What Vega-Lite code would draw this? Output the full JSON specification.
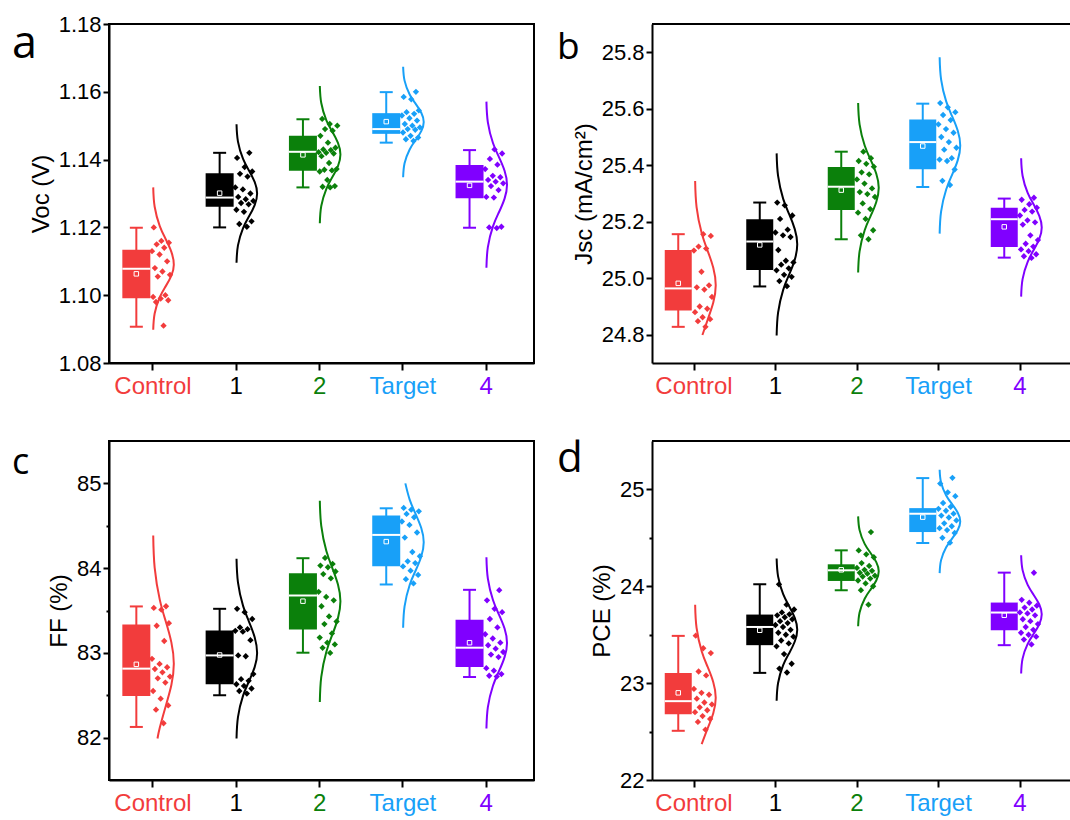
{
  "$schema": "https://vega.github.io/schema/vega-lite/v6.json",
  "background": "white",
  "padding": {"left": 11, "top": 12, "right": 0, "bottom": 0},
  "datasets": {
    "box": [
      {"panel": "a", "group": "Control", "min": 1.0907, "q1": 1.0991, "median": 1.1078, "q3": 1.1134, "max": 1.1199, "mean": 1.1063},
      {"panel": "a", "group": "1", "min": 1.12, "q1": 1.1261, "median": 1.1288, "q3": 1.136, "max": 1.142, "mean": 1.1301},
      {"panel": "a", "group": "2", "min": 1.1318, "q1": 1.1367, "median": 1.1423, "q3": 1.147, "max": 1.1519, "mean": 1.1414},
      {"panel": "a", "group": "Target", "min": 1.145, "q1": 1.1476, "median": 1.149, "q3": 1.1537, "max": 1.1599, "mean": 1.1512},
      {"panel": "a", "group": "4", "min": 1.1199, "q1": 1.1286, "median": 1.1335, "q3": 1.1384, "max": 1.1428, "mean": 1.1324},
      {"panel": "b", "group": "Control", "min": 24.828, "q1": 24.886, "median": 24.964, "q3": 25.1, "max": 25.156, "mean": 24.982},
      {"panel": "b", "group": "1", "min": 24.971, "q1": 25.029, "median": 25.13, "q3": 25.209, "max": 25.268, "mean": 25.118},
      {"panel": "b", "group": "2", "min": 25.138, "q1": 25.242, "median": 25.324, "q3": 25.394, "max": 25.448, "mean": 25.312},
      {"panel": "b", "group": "Target", "min": 25.323, "q1": 25.386, "median": 25.482, "q3": 25.562, "max": 25.618, "mean": 25.468},
      {"panel": "b", "group": "4", "min": 25.073, "q1": 25.111, "median": 25.209, "q3": 25.25, "max": 25.282, "mean": 25.182},
      {"panel": "c", "group": "Control", "min": 82.126, "q1": 82.491, "median": 82.814, "q3": 83.336, "max": 83.548, "mean": 82.865},
      {"panel": "c", "group": "1", "min": 82.5, "q1": 82.629, "median": 82.97, "q3": 83.265, "max": 83.52, "mean": 82.975},
      {"panel": "c", "group": "2", "min": 83.002, "q1": 83.277, "median": 83.677, "q3": 83.94, "max": 84.117, "mean": 83.61},
      {"panel": "c", "group": "Target", "min": 83.807, "q1": 84.022, "median": 84.392, "q3": 84.62, "max": 84.706, "mean": 84.313},
      {"panel": "c", "group": "4", "min": 82.715, "q1": 82.833, "median": 83.061, "q3": 83.391, "max": 83.744, "mean": 83.12},
      {"panel": "d", "group": "Control", "min": 22.508, "q1": 22.68, "median": 22.814, "q3": 23.106, "max": 23.488, "mean": 22.9},
      {"panel": "d", "group": "1", "min": 23.106, "q1": 23.392, "median": 23.58, "q3": 23.708, "max": 24.021, "mean": 23.546},
      {"panel": "d", "group": "2", "min": 23.959, "q1": 24.055, "median": 24.165, "q3": 24.227, "max": 24.371, "mean": 24.17},
      {"panel": "d", "group": "Target", "min": 24.447, "q1": 24.56, "median": 24.749, "q3": 24.807, "max": 25.117, "mean": 24.714},
      {"panel": "d", "group": "4", "min": 23.392, "q1": 23.546, "median": 23.729, "q3": 23.832, "max": 24.141, "mean": 23.701}
    ],
    "crv": [
      {"panel": "a", "group": "Control", "value": 1.0898, "density": 0.011},
      {"panel": "a", "group": "Control", "value": 1.0946, "density": 0.08},
      {"panel": "a", "group": "Control", "value": 1.0994, "density": 0.325},
      {"panel": "a", "group": "Control", "value": 1.1026, "density": 0.607},
      {"panel": "a", "group": "Control", "value": 1.1058, "density": 0.882},
      {"panel": "a", "group": "Control", "value": 1.109, "density": 1},
      {"panel": "a", "group": "Control", "value": 1.1128, "density": 0.882},
      {"panel": "a", "group": "Control", "value": 1.1166, "density": 0.607},
      {"panel": "a", "group": "Control", "value": 1.1204, "density": 0.325},
      {"panel": "a", "group": "Control", "value": 1.1261, "density": 0.08},
      {"panel": "a", "group": "Control", "value": 1.1318, "density": 0.011},
      {"panel": "a", "group": "1", "value": 1.1096, "density": 0.011},
      {"panel": "a", "group": "1", "value": 1.1147, "density": 0.08},
      {"panel": "a", "group": "1", "value": 1.1198, "density": 0.325},
      {"panel": "a", "group": "1", "value": 1.1232, "density": 0.607},
      {"panel": "a", "group": "1", "value": 1.1266, "density": 0.882},
      {"panel": "a", "group": "1", "value": 1.13, "density": 1},
      {"panel": "a", "group": "1", "value": 1.1334, "density": 0.882},
      {"panel": "a", "group": "1", "value": 1.1368, "density": 0.607},
      {"panel": "a", "group": "1", "value": 1.1402, "density": 0.325},
      {"panel": "a", "group": "1", "value": 1.1453, "density": 0.08},
      {"panel": "a", "group": "1", "value": 1.1504, "density": 0.011},
      {"panel": "a", "group": "2", "value": 1.1212, "density": 0.011},
      {"panel": "a", "group": "2", "value": 1.1263, "density": 0.08},
      {"panel": "a", "group": "2", "value": 1.1314, "density": 0.325},
      {"panel": "a", "group": "2", "value": 1.1348, "density": 0.607},
      {"panel": "a", "group": "2", "value": 1.1381, "density": 0.882},
      {"panel": "a", "group": "2", "value": 1.1415, "density": 1},
      {"panel": "a", "group": "2", "value": 1.1449, "density": 0.882},
      {"panel": "a", "group": "2", "value": 1.1483, "density": 0.607},
      {"panel": "a", "group": "2", "value": 1.1516, "density": 0.325},
      {"panel": "a", "group": "2", "value": 1.1567, "density": 0.08},
      {"panel": "a", "group": "2", "value": 1.1617, "density": 0.011},
      {"panel": "a", "group": "Target", "value": 1.1348, "density": 0.011},
      {"panel": "a", "group": "Target", "value": 1.1389, "density": 0.08},
      {"panel": "a", "group": "Target", "value": 1.143, "density": 0.325},
      {"panel": "a", "group": "Target", "value": 1.1457, "density": 0.607},
      {"panel": "a", "group": "Target", "value": 1.1484, "density": 0.882},
      {"panel": "a", "group": "Target", "value": 1.1511, "density": 1},
      {"panel": "a", "group": "Target", "value": 1.1538, "density": 0.882},
      {"panel": "a", "group": "Target", "value": 1.1565, "density": 0.607},
      {"panel": "a", "group": "Target", "value": 1.1592, "density": 0.325},
      {"panel": "a", "group": "Target", "value": 1.1633, "density": 0.08},
      {"panel": "a", "group": "Target", "value": 1.1674, "density": 0.011},
      {"panel": "a", "group": "4", "value": 1.1081, "density": 0.011},
      {"panel": "a", "group": "4", "value": 1.1142, "density": 0.08},
      {"panel": "a", "group": "4", "value": 1.1203, "density": 0.325},
      {"panel": "a", "group": "4", "value": 1.1244, "density": 0.607},
      {"panel": "a", "group": "4", "value": 1.1285, "density": 0.882},
      {"panel": "a", "group": "4", "value": 1.1326, "density": 1},
      {"panel": "a", "group": "4", "value": 1.1367, "density": 0.882},
      {"panel": "a", "group": "4", "value": 1.1408, "density": 0.607},
      {"panel": "a", "group": "4", "value": 1.1449, "density": 0.325},
      {"panel": "a", "group": "4", "value": 1.151, "density": 0.08},
      {"panel": "a", "group": "4", "value": 1.1571, "density": 0.011},
      {"panel": "b", "group": "Control", "value": 24.799, "density": 0.36},
      {"panel": "b", "group": "Control", "value": 24.852, "density": 0.607},
      {"panel": "b", "group": "Control", "value": 24.914, "density": 0.882},
      {"panel": "b", "group": "Control", "value": 24.975, "density": 1},
      {"panel": "b", "group": "Control", "value": 25.037, "density": 0.882},
      {"panel": "b", "group": "Control", "value": 25.098, "density": 0.607},
      {"panel": "b", "group": "Control", "value": 25.16, "density": 0.325},
      {"panel": "b", "group": "Control", "value": 25.252, "density": 0.08},
      {"panel": "b", "group": "Control", "value": 25.344, "density": 0.011},
      {"panel": "b", "group": "1", "value": 24.797, "density": 0.011},
      {"panel": "b", "group": "1", "value": 24.878, "density": 0.08},
      {"panel": "b", "group": "1", "value": 24.959, "density": 0.325},
      {"panel": "b", "group": "1", "value": 25.012, "density": 0.607},
      {"panel": "b", "group": "1", "value": 25.066, "density": 0.882},
      {"panel": "b", "group": "1", "value": 25.12, "density": 1},
      {"panel": "b", "group": "1", "value": 25.174, "density": 0.882},
      {"panel": "b", "group": "1", "value": 25.228, "density": 0.607},
      {"panel": "b", "group": "1", "value": 25.281, "density": 0.325},
      {"panel": "b", "group": "1", "value": 25.362, "density": 0.08},
      {"panel": "b", "group": "1", "value": 25.442, "density": 0.011},
      {"panel": "b", "group": "2", "value": 25.02, "density": 0.011},
      {"panel": "b", "group": "2", "value": 25.095, "density": 0.08},
      {"panel": "b", "group": "2", "value": 25.17, "density": 0.325},
      {"panel": "b", "group": "2", "value": 25.22, "density": 0.607},
      {"panel": "b", "group": "2", "value": 25.27, "density": 0.882},
      {"panel": "b", "group": "2", "value": 25.32, "density": 1},
      {"panel": "b", "group": "2", "value": 25.37, "density": 0.882},
      {"panel": "b", "group": "2", "value": 25.42, "density": 0.607},
      {"panel": "b", "group": "2", "value": 25.47, "density": 0.325},
      {"panel": "b", "group": "2", "value": 25.545, "density": 0.08},
      {"panel": "b", "group": "2", "value": 25.62, "density": 0.011},
      {"panel": "b", "group": "Target", "value": 25.158, "density": 0.011},
      {"panel": "b", "group": "Target", "value": 25.236, "density": 0.08},
      {"panel": "b", "group": "Target", "value": 25.314, "density": 0.325},
      {"panel": "b", "group": "Target", "value": 25.366, "density": 0.607},
      {"panel": "b", "group": "Target", "value": 25.418, "density": 0.882},
      {"panel": "b", "group": "Target", "value": 25.47, "density": 1},
      {"panel": "b", "group": "Target", "value": 25.522, "density": 0.882},
      {"panel": "b", "group": "Target", "value": 25.574, "density": 0.607},
      {"panel": "b", "group": "Target", "value": 25.626, "density": 0.325},
      {"panel": "b", "group": "Target", "value": 25.704, "density": 0.08},
      {"panel": "b", "group": "Target", "value": 25.782, "density": 0.011},
      {"panel": "b", "group": "4", "value": 24.935, "density": 0.011},
      {"panel": "b", "group": "4", "value": 24.997, "density": 0.08},
      {"panel": "b", "group": "4", "value": 25.058, "density": 0.325},
      {"panel": "b", "group": "4", "value": 25.099, "density": 0.607},
      {"panel": "b", "group": "4", "value": 25.139, "density": 0.882},
      {"panel": "b", "group": "4", "value": 25.18, "density": 1},
      {"panel": "b", "group": "4", "value": 25.221, "density": 0.882},
      {"panel": "b", "group": "4", "value": 25.262, "density": 0.607},
      {"panel": "b", "group": "4", "value": 25.302, "density": 0.325},
      {"panel": "b", "group": "4", "value": 25.363, "density": 0.08},
      {"panel": "b", "group": "4", "value": 25.425, "density": 0.011},
      {"panel": "c", "group": "Control", "value": 81.99, "density": 0.216},
      {"panel": "c", "group": "Control", "value": 82.116, "density": 0.325},
      {"panel": "c", "group": "Control", "value": 82.368, "density": 0.607},
      {"panel": "c", "group": "Control", "value": 82.62, "density": 0.882},
      {"panel": "c", "group": "Control", "value": 82.872, "density": 1},
      {"panel": "c", "group": "Control", "value": 83.124, "density": 0.882},
      {"panel": "c", "group": "Control", "value": 83.376, "density": 0.607},
      {"panel": "c", "group": "Control", "value": 83.628, "density": 0.325},
      {"panel": "c", "group": "Control", "value": 84.006, "density": 0.08},
      {"panel": "c", "group": "Control", "value": 84.384, "density": 0.011},
      {"panel": "c", "group": "1", "value": 81.99, "density": 0.011},
      {"panel": "c", "group": "1", "value": 82.242, "density": 0.08},
      {"panel": "c", "group": "1", "value": 82.495, "density": 0.325},
      {"panel": "c", "group": "1", "value": 82.663, "density": 0.607},
      {"panel": "c", "group": "1", "value": 82.832, "density": 0.882},
      {"panel": "c", "group": "1", "value": 83.0, "density": 1},
      {"panel": "c", "group": "1", "value": 83.185, "density": 0.882},
      {"panel": "c", "group": "1", "value": 83.37, "density": 0.607},
      {"panel": "c", "group": "1", "value": 83.555, "density": 0.325},
      {"panel": "c", "group": "1", "value": 83.833, "density": 0.08},
      {"panel": "c", "group": "1", "value": 84.11, "density": 0.011},
      {"panel": "c", "group": "2", "value": 82.42, "density": 0.011},
      {"panel": "c", "group": "2", "value": 82.717, "density": 0.08},
      {"panel": "c", "group": "2", "value": 83.014, "density": 0.325},
      {"panel": "c", "group": "2", "value": 83.212, "density": 0.607},
      {"panel": "c", "group": "2", "value": 83.41, "density": 0.882},
      {"panel": "c", "group": "2", "value": 83.608, "density": 1},
      {"panel": "c", "group": "2", "value": 83.806, "density": 0.882},
      {"panel": "c", "group": "2", "value": 84.004, "density": 0.607},
      {"panel": "c", "group": "2", "value": 84.202, "density": 0.325},
      {"panel": "c", "group": "2", "value": 84.499, "density": 0.08},
      {"panel": "c", "group": "2", "value": 84.796, "density": 0.011},
      {"panel": "c", "group": "Target", "value": 83.297, "density": 0.011},
      {"panel": "c", "group": "Target", "value": 83.549, "density": 0.08},
      {"panel": "c", "group": "Target", "value": 83.801, "density": 0.325},
      {"panel": "c", "group": "Target", "value": 83.969, "density": 0.607},
      {"panel": "c", "group": "Target", "value": 84.137, "density": 0.882},
      {"panel": "c", "group": "Target", "value": 84.305, "density": 1},
      {"panel": "c", "group": "Target", "value": 84.473, "density": 0.882},
      {"panel": "c", "group": "Target", "value": 84.641, "density": 0.607},
      {"panel": "c", "group": "Target", "value": 84.809, "density": 0.325},
      {"panel": "c", "group": "Target", "value": 85.0, "density": 0.118},
      {"panel": "c", "group": "4", "value": 82.107, "density": 0.011},
      {"panel": "c", "group": "4", "value": 82.36, "density": 0.08},
      {"panel": "c", "group": "4", "value": 82.612, "density": 0.325},
      {"panel": "c", "group": "4", "value": 82.781, "density": 0.607},
      {"panel": "c", "group": "4", "value": 82.95, "density": 0.882},
      {"panel": "c", "group": "4", "value": 83.118, "density": 1},
      {"panel": "c", "group": "4", "value": 83.287, "density": 0.882},
      {"panel": "c", "group": "4", "value": 83.455, "density": 0.607},
      {"panel": "c", "group": "4", "value": 83.624, "density": 0.325},
      {"panel": "c", "group": "4", "value": 83.876, "density": 0.08},
      {"panel": "c", "group": "4", "value": 84.129, "density": 0.011},
      {"panel": "d", "group": "Control", "value": 22.37, "density": 0.325},
      {"panel": "d", "group": "Control", "value": 22.53, "density": 0.607},
      {"panel": "d", "group": "Control", "value": 22.69, "density": 0.882},
      {"panel": "d", "group": "Control", "value": 22.85, "density": 1},
      {"panel": "d", "group": "Control", "value": 23.01, "density": 0.882},
      {"panel": "d", "group": "Control", "value": 23.17, "density": 0.607},
      {"panel": "d", "group": "Control", "value": 23.33, "density": 0.325},
      {"panel": "d", "group": "Control", "value": 23.57, "density": 0.08},
      {"panel": "d", "group": "Control", "value": 23.81, "density": 0.011},
      {"panel": "d", "group": "1", "value": 22.818, "density": 0.011},
      {"panel": "d", "group": "1", "value": 23.001, "density": 0.08},
      {"panel": "d", "group": "1", "value": 23.185, "density": 0.325},
      {"panel": "d", "group": "1", "value": 23.307, "density": 0.607},
      {"panel": "d", "group": "1", "value": 23.43, "density": 0.882},
      {"panel": "d", "group": "1", "value": 23.552, "density": 1},
      {"panel": "d", "group": "1", "value": 23.674, "density": 0.882},
      {"panel": "d", "group": "1", "value": 23.797, "density": 0.607},
      {"panel": "d", "group": "1", "value": 23.919, "density": 0.325},
      {"panel": "d", "group": "1", "value": 24.103, "density": 0.08},
      {"panel": "d", "group": "1", "value": 24.286, "density": 0.011},
      {"panel": "d", "group": "2", "value": 23.588, "density": 0.011},
      {"panel": "d", "group": "2", "value": 23.73, "density": 0.08},
      {"panel": "d", "group": "2", "value": 23.872, "density": 0.325},
      {"panel": "d", "group": "2", "value": 23.966, "density": 0.607},
      {"panel": "d", "group": "2", "value": 24.06, "density": 0.882},
      {"panel": "d", "group": "2", "value": 24.155, "density": 1},
      {"panel": "d", "group": "2", "value": 24.25, "density": 0.882},
      {"panel": "d", "group": "2", "value": 24.344, "density": 0.607},
      {"panel": "d", "group": "2", "value": 24.438, "density": 0.325},
      {"panel": "d", "group": "2", "value": 24.58, "density": 0.08},
      {"panel": "d", "group": "2", "value": 24.722, "density": 0.011},
      {"panel": "d", "group": "Target", "value": 24.136, "density": 0.011},
      {"panel": "d", "group": "Target", "value": 24.27, "density": 0.08},
      {"panel": "d", "group": "Target", "value": 24.403, "density": 0.325},
      {"panel": "d", "group": "Target", "value": 24.492, "density": 0.607},
      {"panel": "d", "group": "Target", "value": 24.581, "density": 0.882},
      {"panel": "d", "group": "Target", "value": 24.67, "density": 1},
      {"panel": "d", "group": "Target", "value": 24.759, "density": 0.882},
      {"panel": "d", "group": "Target", "value": 24.848, "density": 0.607},
      {"panel": "d", "group": "Target", "value": 24.937, "density": 0.325},
      {"panel": "d", "group": "Target", "value": 25.071, "density": 0.08},
      {"panel": "d", "group": "Target", "value": 25.204, "density": 0.011},
      {"panel": "d", "group": "4", "value": 23.1, "density": 0.011},
      {"panel": "d", "group": "4", "value": 23.253, "density": 0.08},
      {"panel": "d", "group": "4", "value": 23.405, "density": 0.325},
      {"panel": "d", "group": "4", "value": 23.507, "density": 0.607},
      {"panel": "d", "group": "4", "value": 23.608, "density": 0.882},
      {"panel": "d", "group": "4", "value": 23.71, "density": 1},
      {"panel": "d", "group": "4", "value": 23.812, "density": 0.882},
      {"panel": "d", "group": "4", "value": 23.913, "density": 0.607},
      {"panel": "d", "group": "4", "value": 24.015, "density": 0.325},
      {"panel": "d", "group": "4", "value": 24.167, "density": 0.08},
      {"panel": "d", "group": "4", "value": 24.32, "density": 0.011}
    ],
    "pts": [
      {"panel": "a", "group": "Control", "value": 1.12}, {"panel": "a", "group": "Control", "value": 1.116}, {"panel": "a", "group": "Control", "value": 1.1155}, {"panel": "a", "group": "Control", "value": 1.115}, {"panel": "a", "group": "Control", "value": 1.114}, {"panel": "a", "group": "Control", "value": 1.113}, {"panel": "a", "group": "Control", "value": 1.112}, {"panel": "a", "group": "Control", "value": 1.11}, {"panel": "a", "group": "Control", "value": 1.108}, {"panel": "a", "group": "Control", "value": 1.107}, {"panel": "a", "group": "Control", "value": 1.106}, {"panel": "a", "group": "Control", "value": 1.1055}, {"panel": "a", "group": "Control", "value": 1.1}, {"panel": "a", "group": "Control", "value": 1.0995}, {"panel": "a", "group": "Control", "value": 1.099}, {"panel": "a", "group": "Control", "value": 1.0985}, {"panel": "a", "group": "Control", "value": 1.098}, {"panel": "a", "group": "Control", "value": 1.091},
      {"panel": "a", "group": "1", "value": 1.142}, {"panel": "a", "group": "1", "value": 1.1405}, {"panel": "a", "group": "1", "value": 1.1378}, {"panel": "a", "group": "1", "value": 1.1365}, {"panel": "a", "group": "1", "value": 1.1358}, {"panel": "a", "group": "1", "value": 1.135}, {"panel": "a", "group": "1", "value": 1.1318}, {"panel": "a", "group": "1", "value": 1.1312}, {"panel": "a", "group": "1", "value": 1.13}, {"panel": "a", "group": "1", "value": 1.129}, {"panel": "a", "group": "1", "value": 1.1283}, {"panel": "a", "group": "1", "value": 1.1278}, {"panel": "a", "group": "1", "value": 1.1272}, {"panel": "a", "group": "1", "value": 1.1268}, {"panel": "a", "group": "1", "value": 1.1252}, {"panel": "a", "group": "1", "value": 1.1246}, {"panel": "a", "group": "1", "value": 1.1218}, {"panel": "a", "group": "1", "value": 1.121}, {"panel": "a", "group": "1", "value": 1.1202},
      {"panel": "a", "group": "2", "value": 1.152}, {"panel": "a", "group": "2", "value": 1.1505}, {"panel": "a", "group": "2", "value": 1.15}, {"panel": "a", "group": "2", "value": 1.149}, {"panel": "a", "group": "2", "value": 1.1485}, {"panel": "a", "group": "2", "value": 1.147}, {"panel": "a", "group": "2", "value": 1.145}, {"panel": "a", "group": "2", "value": 1.1435}, {"panel": "a", "group": "2", "value": 1.143}, {"panel": "a", "group": "2", "value": 1.1428}, {"panel": "a", "group": "2", "value": 1.1422}, {"panel": "a", "group": "2", "value": 1.142}, {"panel": "a", "group": "2", "value": 1.1418}, {"panel": "a", "group": "2", "value": 1.141}, {"panel": "a", "group": "2", "value": 1.139}, {"panel": "a", "group": "2", "value": 1.137}, {"panel": "a", "group": "2", "value": 1.1372}, {"panel": "a", "group": "2", "value": 1.1368}, {"panel": "a", "group": "2", "value": 1.1365}, {"panel": "a", "group": "2", "value": 1.134}, {"panel": "a", "group": "2", "value": 1.132}, {"panel": "a", "group": "2", "value": 1.1322}, {"panel": "a", "group": "2", "value": 1.1318},
      {"panel": "a", "group": "Target", "value": 1.16}, {"panel": "a", "group": "Target", "value": 1.1585}, {"panel": "a", "group": "Target", "value": 1.1578}, {"panel": "a", "group": "Target", "value": 1.1545}, {"panel": "a", "group": "Target", "value": 1.154}, {"panel": "a", "group": "Target", "value": 1.1535}, {"panel": "a", "group": "Target", "value": 1.153}, {"panel": "a", "group": "Target", "value": 1.1522}, {"panel": "a", "group": "Target", "value": 1.1515}, {"panel": "a", "group": "Target", "value": 1.1505}, {"panel": "a", "group": "Target", "value": 1.15}, {"panel": "a", "group": "Target", "value": 1.1495}, {"panel": "a", "group": "Target", "value": 1.149}, {"panel": "a", "group": "Target", "value": 1.1488}, {"panel": "a", "group": "Target", "value": 1.148}, {"panel": "a", "group": "Target", "value": 1.147}, {"panel": "a", "group": "Target", "value": 1.1465}, {"panel": "a", "group": "Target", "value": 1.146}, {"panel": "a", "group": "Target", "value": 1.1455},
      {"panel": "a", "group": "4", "value": 1.143}, {"panel": "a", "group": "4", "value": 1.1418}, {"panel": "a", "group": "4", "value": 1.1402}, {"panel": "a", "group": "4", "value": 1.1385}, {"panel": "a", "group": "4", "value": 1.1372}, {"panel": "a", "group": "4", "value": 1.1352}, {"panel": "a", "group": "4", "value": 1.1348}, {"panel": "a", "group": "4", "value": 1.134}, {"panel": "a", "group": "4", "value": 1.1335}, {"panel": "a", "group": "4", "value": 1.133}, {"panel": "a", "group": "4", "value": 1.1322}, {"panel": "a", "group": "4", "value": 1.131}, {"panel": "a", "group": "4", "value": 1.129}, {"panel": "a", "group": "4", "value": 1.1288}, {"panel": "a", "group": "4", "value": 1.1202}, {"panel": "a", "group": "4", "value": 1.12}, {"panel": "a", "group": "4", "value": 1.1198},
      {"panel": "b", "group": "Control", "value": 25.156}, {"panel": "b", "group": "Control", "value": 25.15}, {"panel": "b", "group": "Control", "value": 25.112}, {"panel": "b", "group": "Control", "value": 25.105}, {"panel": "b", "group": "Control", "value": 25.098}, {"panel": "b", "group": "Control", "value": 25.023}, {"panel": "b", "group": "Control", "value": 24.975}, {"panel": "b", "group": "Control", "value": 24.968}, {"panel": "b", "group": "Control", "value": 24.96}, {"panel": "b", "group": "Control", "value": 24.934}, {"panel": "b", "group": "Control", "value": 24.9}, {"panel": "b", "group": "Control", "value": 24.892}, {"panel": "b", "group": "Control", "value": 24.88}, {"panel": "b", "group": "Control", "value": 24.862}, {"panel": "b", "group": "Control", "value": 24.855}, {"panel": "b", "group": "Control", "value": 24.848}, {"panel": "b", "group": "Control", "value": 24.828},
      {"panel": "b", "group": "1", "value": 25.268}, {"panel": "b", "group": "1", "value": 25.258}, {"panel": "b", "group": "1", "value": 25.222}, {"panel": "b", "group": "1", "value": 25.21}, {"panel": "b", "group": "1", "value": 25.172}, {"panel": "b", "group": "1", "value": 25.162}, {"panel": "b", "group": "1", "value": 25.152}, {"panel": "b", "group": "1", "value": 25.146}, {"panel": "b", "group": "1", "value": 25.1}, {"panel": "b", "group": "1", "value": 25.062}, {"panel": "b", "group": "1", "value": 25.056}, {"panel": "b", "group": "1", "value": 25.048}, {"panel": "b", "group": "1", "value": 25.035}, {"panel": "b", "group": "1", "value": 25.028}, {"panel": "b", "group": "1", "value": 25.012}, {"panel": "b", "group": "1", "value": 25.005}, {"panel": "b", "group": "1", "value": 24.99}, {"panel": "b", "group": "1", "value": 24.972},
      {"panel": "b", "group": "2", "value": 25.448}, {"panel": "b", "group": "2", "value": 25.425}, {"panel": "b", "group": "2", "value": 25.415}, {"panel": "b", "group": "2", "value": 25.405}, {"panel": "b", "group": "2", "value": 25.395}, {"panel": "b", "group": "2", "value": 25.375}, {"panel": "b", "group": "2", "value": 25.368}, {"panel": "b", "group": "2", "value": 25.35}, {"panel": "b", "group": "2", "value": 25.335}, {"panel": "b", "group": "2", "value": 25.318}, {"panel": "b", "group": "2", "value": 25.305}, {"panel": "b", "group": "2", "value": 25.298}, {"panel": "b", "group": "2", "value": 25.288}, {"panel": "b", "group": "2", "value": 25.265}, {"panel": "b", "group": "2", "value": 25.245}, {"panel": "b", "group": "2", "value": 25.232}, {"panel": "b", "group": "2", "value": 25.21}, {"panel": "b", "group": "2", "value": 25.17}, {"panel": "b", "group": "2", "value": 25.152}, {"panel": "b", "group": "2", "value": 25.138},
      {"panel": "b", "group": "Target", "value": 25.62}, {"panel": "b", "group": "Target", "value": 25.605}, {"panel": "b", "group": "Target", "value": 25.588}, {"panel": "b", "group": "Target", "value": 25.578}, {"panel": "b", "group": "Target", "value": 25.56}, {"panel": "b", "group": "Target", "value": 25.545}, {"panel": "b", "group": "Target", "value": 25.528}, {"panel": "b", "group": "Target", "value": 25.515}, {"panel": "b", "group": "Target", "value": 25.5}, {"panel": "b", "group": "Target", "value": 25.482}, {"panel": "b", "group": "Target", "value": 25.462}, {"panel": "b", "group": "Target", "value": 25.455}, {"panel": "b", "group": "Target", "value": 25.425}, {"panel": "b", "group": "Target", "value": 25.42}, {"panel": "b", "group": "Target", "value": 25.415}, {"panel": "b", "group": "Target", "value": 25.385}, {"panel": "b", "group": "Target", "value": 25.345}, {"panel": "b", "group": "Target", "value": 25.33},
      {"panel": "b", "group": "4", "value": 25.285}, {"panel": "b", "group": "4", "value": 25.278}, {"panel": "b", "group": "4", "value": 25.262}, {"panel": "b", "group": "4", "value": 25.25}, {"panel": "b", "group": "4", "value": 25.242}, {"panel": "b", "group": "4", "value": 25.236}, {"panel": "b", "group": "4", "value": 25.222}, {"panel": "b", "group": "4", "value": 25.205}, {"panel": "b", "group": "4", "value": 25.198}, {"panel": "b", "group": "4", "value": 25.19}, {"panel": "b", "group": "4", "value": 25.152}, {"panel": "b", "group": "4", "value": 25.135}, {"panel": "b", "group": "4", "value": 25.122}, {"panel": "b", "group": "4", "value": 25.112}, {"panel": "b", "group": "4", "value": 25.102}, {"panel": "b", "group": "4", "value": 25.096}, {"panel": "b", "group": "4", "value": 25.085}, {"panel": "b", "group": "4", "value": 25.078}, {"panel": "b", "group": "4", "value": 25.072},
      {"panel": "c", "group": "Control", "value": 83.55}, {"panel": "c", "group": "Control", "value": 83.53}, {"panel": "c", "group": "Control", "value": 83.51}, {"panel": "c", "group": "Control", "value": 83.35}, {"panel": "c", "group": "Control", "value": 83.32}, {"panel": "c", "group": "Control", "value": 83.14}, {"panel": "c", "group": "Control", "value": 82.93}, {"panel": "c", "group": "Control", "value": 82.87}, {"panel": "c", "group": "Control", "value": 82.83}, {"panel": "c", "group": "Control", "value": 82.81}, {"panel": "c", "group": "Control", "value": 82.77}, {"panel": "c", "group": "Control", "value": 82.72}, {"panel": "c", "group": "Control", "value": 82.7}, {"panel": "c", "group": "Control", "value": 82.65}, {"panel": "c", "group": "Control", "value": 82.55}, {"panel": "c", "group": "Control", "value": 82.46}, {"panel": "c", "group": "Control", "value": 82.38}, {"panel": "c", "group": "Control", "value": 82.33}, {"panel": "c", "group": "Control", "value": 82.17},
      {"panel": "c", "group": "1", "value": 83.52}, {"panel": "c", "group": "1", "value": 83.48}, {"panel": "c", "group": "1", "value": 83.4}, {"panel": "c", "group": "1", "value": 83.3}, {"panel": "c", "group": "1", "value": 83.28}, {"panel": "c", "group": "1", "value": 83.26}, {"panel": "c", "group": "1", "value": 83.25}, {"panel": "c", "group": "1", "value": 83.15}, {"panel": "c", "group": "1", "value": 82.97}, {"panel": "c", "group": "1", "value": 82.96}, {"panel": "c", "group": "1", "value": 82.75}, {"panel": "c", "group": "1", "value": 82.69}, {"panel": "c", "group": "1", "value": 82.67}, {"panel": "c", "group": "1", "value": 82.63}, {"panel": "c", "group": "1", "value": 82.61}, {"panel": "c", "group": "1", "value": 82.58}, {"panel": "c", "group": "1", "value": 82.55}, {"panel": "c", "group": "1", "value": 82.52},
      {"panel": "c", "group": "2", "value": 84.12}, {"panel": "c", "group": "2", "value": 84.05}, {"panel": "c", "group": "2", "value": 84.03}, {"panel": "c", "group": "2", "value": 84.01}, {"panel": "c", "group": "2", "value": 83.96}, {"panel": "c", "group": "2", "value": 83.93}, {"panel": "c", "group": "2", "value": 83.88}, {"panel": "c", "group": "2", "value": 83.72}, {"panel": "c", "group": "2", "value": 83.66}, {"panel": "c", "group": "2", "value": 83.62}, {"panel": "c", "group": "2", "value": 83.55}, {"panel": "c", "group": "2", "value": 83.43}, {"panel": "c", "group": "2", "value": 83.37}, {"panel": "c", "group": "2", "value": 83.34}, {"panel": "c", "group": "2", "value": 83.23}, {"panel": "c", "group": "2", "value": 83.18}, {"panel": "c", "group": "2", "value": 83.12}, {"panel": "c", "group": "2", "value": 83.1}, {"panel": "c", "group": "2", "value": 83.06}, {"panel": "c", "group": "2", "value": 83.0},
      {"panel": "c", "group": "Target", "value": 84.71}, {"panel": "c", "group": "Target", "value": 84.69}, {"panel": "c", "group": "Target", "value": 84.67}, {"panel": "c", "group": "Target", "value": 84.64}, {"panel": "c", "group": "Target", "value": 84.6}, {"panel": "c", "group": "Target", "value": 84.55}, {"panel": "c", "group": "Target", "value": 84.51}, {"panel": "c", "group": "Target", "value": 84.42}, {"panel": "c", "group": "Target", "value": 84.36}, {"panel": "c", "group": "Target", "value": 84.19}, {"panel": "c", "group": "Target", "value": 84.14}, {"panel": "c", "group": "Target", "value": 84.08}, {"panel": "c", "group": "Target", "value": 84.06}, {"panel": "c", "group": "Target", "value": 84.02}, {"panel": "c", "group": "Target", "value": 83.97}, {"panel": "c", "group": "Target", "value": 83.92}, {"panel": "c", "group": "Target", "value": 83.87}, {"panel": "c", "group": "Target", "value": 83.82},
      {"panel": "c", "group": "4", "value": 83.74}, {"panel": "c", "group": "4", "value": 83.62}, {"panel": "c", "group": "4", "value": 83.52}, {"panel": "c", "group": "4", "value": 83.48}, {"panel": "c", "group": "4", "value": 83.4}, {"panel": "c", "group": "4", "value": 83.3}, {"panel": "c", "group": "4", "value": 83.22}, {"panel": "c", "group": "4", "value": 83.17}, {"panel": "c", "group": "4", "value": 83.12}, {"panel": "c", "group": "4", "value": 83.09}, {"panel": "c", "group": "4", "value": 83.05}, {"panel": "c", "group": "4", "value": 83.01}, {"panel": "c", "group": "4", "value": 82.98}, {"panel": "c", "group": "4", "value": 82.95}, {"panel": "c", "group": "4", "value": 82.82}, {"panel": "c", "group": "4", "value": 82.79}, {"panel": "c", "group": "4", "value": 82.75}, {"panel": "c", "group": "4", "value": 82.73}, {"panel": "c", "group": "4", "value": 82.72},
      {"panel": "d", "group": "Control", "value": 23.49}, {"panel": "d", "group": "Control", "value": 23.36}, {"panel": "d", "group": "Control", "value": 23.31}, {"panel": "d", "group": "Control", "value": 23.12}, {"panel": "d", "group": "Control", "value": 23.08}, {"panel": "d", "group": "Control", "value": 22.94}, {"panel": "d", "group": "Control", "value": 22.9}, {"panel": "d", "group": "Control", "value": 22.88}, {"panel": "d", "group": "Control", "value": 22.84}, {"panel": "d", "group": "Control", "value": 22.8}, {"panel": "d", "group": "Control", "value": 22.78}, {"panel": "d", "group": "Control", "value": 22.75}, {"panel": "d", "group": "Control", "value": 22.72}, {"panel": "d", "group": "Control", "value": 22.7}, {"panel": "d", "group": "Control", "value": 22.66}, {"panel": "d", "group": "Control", "value": 22.63}, {"panel": "d", "group": "Control", "value": 22.6}, {"panel": "d", "group": "Control", "value": 22.52},
      {"panel": "d", "group": "1", "value": 24.02}, {"panel": "d", "group": "1", "value": 23.81}, {"panel": "d", "group": "1", "value": 23.76}, {"panel": "d", "group": "1", "value": 23.73}, {"panel": "d", "group": "1", "value": 23.71}, {"panel": "d", "group": "1", "value": 23.7}, {"panel": "d", "group": "1", "value": 23.68}, {"panel": "d", "group": "1", "value": 23.66}, {"panel": "d", "group": "1", "value": 23.64}, {"panel": "d", "group": "1", "value": 23.62}, {"panel": "d", "group": "1", "value": 23.6}, {"panel": "d", "group": "1", "value": 23.58}, {"panel": "d", "group": "1", "value": 23.55}, {"panel": "d", "group": "1", "value": 23.52}, {"panel": "d", "group": "1", "value": 23.5}, {"panel": "d", "group": "1", "value": 23.48}, {"panel": "d", "group": "1", "value": 23.44}, {"panel": "d", "group": "1", "value": 23.41}, {"panel": "d", "group": "1", "value": 23.38}, {"panel": "d", "group": "1", "value": 23.3}, {"panel": "d", "group": "1", "value": 23.2}, {"panel": "d", "group": "1", "value": 23.15}, {"panel": "d", "group": "1", "value": 23.11},
      {"panel": "d", "group": "2", "value": 24.56}, {"panel": "d", "group": "2", "value": 24.37}, {"panel": "d", "group": "2", "value": 24.33}, {"panel": "d", "group": "2", "value": 24.3}, {"panel": "d", "group": "2", "value": 24.24}, {"panel": "d", "group": "2", "value": 24.21}, {"panel": "d", "group": "2", "value": 24.19}, {"panel": "d", "group": "2", "value": 24.17}, {"panel": "d", "group": "2", "value": 24.16}, {"panel": "d", "group": "2", "value": 24.14}, {"panel": "d", "group": "2", "value": 24.13}, {"panel": "d", "group": "2", "value": 24.11}, {"panel": "d", "group": "2", "value": 24.1}, {"panel": "d", "group": "2", "value": 24.08}, {"panel": "d", "group": "2", "value": 24.06}, {"panel": "d", "group": "2", "value": 24.03}, {"panel": "d", "group": "2", "value": 24.0}, {"panel": "d", "group": "2", "value": 23.96}, {"panel": "d", "group": "2", "value": 23.81},
      {"panel": "d", "group": "Target", "value": 25.12}, {"panel": "d", "group": "Target", "value": 25.06}, {"panel": "d", "group": "Target", "value": 24.97}, {"panel": "d", "group": "Target", "value": 24.93}, {"panel": "d", "group": "Target", "value": 24.86}, {"panel": "d", "group": "Target", "value": 24.82}, {"panel": "d", "group": "Target", "value": 24.8}, {"panel": "d", "group": "Target", "value": 24.78}, {"panel": "d", "group": "Target", "value": 24.75}, {"panel": "d", "group": "Target", "value": 24.73}, {"panel": "d", "group": "Target", "value": 24.71}, {"panel": "d", "group": "Target", "value": 24.68}, {"panel": "d", "group": "Target", "value": 24.65}, {"panel": "d", "group": "Target", "value": 24.62}, {"panel": "d", "group": "Target", "value": 24.6}, {"panel": "d", "group": "Target", "value": 24.58}, {"panel": "d", "group": "Target", "value": 24.55}, {"panel": "d", "group": "Target", "value": 24.5}, {"panel": "d", "group": "Target", "value": 24.45},
      {"panel": "d", "group": "4", "value": 24.14}, {"panel": "d", "group": "4", "value": 23.86}, {"panel": "d", "group": "4", "value": 23.83}, {"panel": "d", "group": "4", "value": 23.8}, {"panel": "d", "group": "4", "value": 23.78}, {"panel": "d", "group": "4", "value": 23.76}, {"panel": "d", "group": "4", "value": 23.73}, {"panel": "d", "group": "4", "value": 23.72}, {"panel": "d", "group": "4", "value": 23.7}, {"panel": "d", "group": "4", "value": 23.66}, {"panel": "d", "group": "4", "value": 23.64}, {"panel": "d", "group": "4", "value": 23.61}, {"panel": "d", "group": "4", "value": 23.58}, {"panel": "d", "group": "4", "value": 23.55}, {"panel": "d", "group": "4", "value": 23.52}, {"panel": "d", "group": "4", "value": 23.5}, {"panel": "d", "group": "4", "value": 23.48}, {"panel": "d", "group": "4", "value": 23.45}, {"panel": "d", "group": "4", "value": 23.4}
    ]
  },
  "concat": [
    {
      "width": 425, "height": 339,
      "title": {"text": "a", "anchor": "start", "frame": "group", "orient": "top", "offset": -48, "font": "Open Sans", "fontSize": 45, "fontWeight": "normal", "color": "black", "baseline": "alphabetic", "dx": -97, "dy": 42},
      "encoding": {
        "x": {"field": "group", "type": "nominal", "scale": {"domain": ["Control", "1", "2", "Target", "4"], "paddingInner": 0, "paddingOuter": 0.051, "align": 0.276},
          "axis": {"title": null, "labelAngle": 0, "labelFontSize": 24, "labelPadding": 4, "tickSize": 7,
            "labelColor": {"condition": [{"test": "datum.value == 'Control'", "value": "#F23C3C"}, {"test": "datum.value == '2'", "value": "#0B800B"}, {"test": "datum.value == 'Target'", "value": "#18A0F8"}, {"test": "datum.value == '4'", "value": "#8000FF"}], "value": "black"}}},
        "color": {"field": "group", "type": "nominal", "scale": {"domain": ["Control", "1", "2", "Target", "4"], "range": ["#F23C3C", "#000000", "#0B800B", "#18A0F8", "#8000FF"]}, "legend": null}
      },
      "layer": [
        {"data": {"name": "box"}, "transform": [{"filter": "datum.panel == 'a'"}],
         "mark": {"type": "rule", "strokeWidth": 2},
         "encoding": {
           "xOffset": {"datum": -0.8, "type": "quantitative", "scale": {"domain": [-2, 2]}},
           "y": {"field": "min", "type": "quantitative", "scale": {"domain": [1.08, 1.18], "nice": false, "zero": false},
             "axis": {"title": "Voc (V)", "values": [1.08, 1.09, 1.1, 1.11, 1.12, 1.13, 1.14, 1.15, 1.16, 1.17, 1.18],
               "labelExpr": "round(datum.value * 100) % 2 == 0 ? format(datum.value, '.2f') : ''",
               "tickSize": {"condition": {"test": "round(datum.value * 100) % 2 == 0", "value": 6}, "value": 3},
               "labelOverlap": false, "labelFontSize": 22, "labelPadding": 2, "titleFontSize": 24, "titlePadding": 5}},
           "y2": {"field": "max"}}},
        {"data": {"name": "box"}, "transform": [{"filter": "datum.panel == 'a'"}, {"fold": ["min", "max"], "as": ["stat", "level"]}],
         "mark": {"type": "point", "shape": "M-1,0L1,0", "size": 169, "filled": false, "strokeWidth": 2, "opacity": 1},
         "encoding": {"xOffset": {"datum": -0.8, "type": "quantitative", "scale": {"domain": [-2, 2]}}, "y": {"field": "level", "type": "quantitative"}}},
        {"data": {"name": "box"}, "transform": [{"filter": "datum.panel == 'a'"}],
         "mark": {"type": "rule", "strokeWidth": 28},
         "encoding": {"xOffset": {"datum": -0.8, "type": "quantitative", "scale": {"domain": [-2, 2]}}, "y": {"field": "q1", "type": "quantitative"}, "y2": {"field": "q3"}}},
        {"data": {"name": "box"}, "transform": [{"filter": "datum.panel == 'a'"}],
         "mark": {"type": "point", "shape": "M-1,0L1,0", "size": 784, "filled": false, "strokeWidth": 2, "opacity": 1},
         "encoding": {"xOffset": {"datum": -0.8, "type": "quantitative", "scale": {"domain": [-2, 2]}}, "y": {"field": "median", "type": "quantitative"}, "color": {"value": "white"}}},
        {"data": {"name": "box"}, "transform": [{"filter": "datum.panel == 'a'"}],
         "mark": {"type": "point", "shape": "square", "size": 20, "filled": false, "strokeWidth": 1, "opacity": 1},
         "encoding": {"xOffset": {"datum": -0.8, "type": "quantitative", "scale": {"domain": [-2, 2]}}, "y": {"field": "mean", "type": "quantitative"}, "color": {"value": "white"}}},
        {"data": {"name": "pts"}, "transform": [{"filter": "datum.panel == 'a'"}, {"window": [{"op": "row_number", "as": "rank"}], "groupby": ["group"], "sort": [{"field": "value", "order": "ascending"}]}, {"calculate": "((datum.rank * 0.618034) % 1) * 0.95 - 0.08", "as": "jitter"}],
         "mark": {"type": "point", "shape": "diamond", "filled": true, "size": 40, "opacity": 1, "strokeWidth": 0},
         "encoding": {"xOffset": {"field": "jitter", "type": "quantitative", "scale": {"domain": [-2, 2]}}, "y": {"field": "value", "type": "quantitative"}}},
        {"data": {"name": "crv"}, "transform": [{"filter": "datum.panel == 'a'"}],
         "mark": {"type": "line", "strokeWidth": 2, "interpolate": "natural"},
         "encoding": {"xOffset": {"field": "density", "type": "quantitative", "scale": {"domain": [-2, 2]}}, "y": {"field": "value", "type": "quantitative"}, "order": {"field": "value", "type": "quantitative"}}}
      ]
    },
    {
      "width": 418, "height": 339,
      "view": {"stroke": null},
      "title": {"text": "b", "anchor": "start", "frame": "group", "orient": "top", "offset": -38, "font": "Open Sans", "fontSize": 37, "fontWeight": "normal", "color": "black", "baseline": "alphabetic", "dx": -95, "dy": 35},
      "layer": [
        {
          "encoding": {
            "x": {"field": "group", "type": "nominal", "scale": {"domain": ["Control", "1", "2", "Target", "4"], "paddingInner": 0, "paddingOuter": 0.0644, "align": 0.12},
              "axis": {"title": null, "labelAngle": 0, "labelFontSize": 24, "labelPadding": 4, "tickSize": 7,
                "labelColor": {"condition": [{"test": "datum.value == 'Control'", "value": "#F23C3C"}, {"test": "datum.value == '2'", "value": "#0B800B"}, {"test": "datum.value == 'Target'", "value": "#18A0F8"}, {"test": "datum.value == '4'", "value": "#8000FF"}], "value": "black"}}},
            "color": {"field": "group", "type": "nominal", "scale": {"domain": ["Control", "1", "2", "Target", "4"], "range": ["#F23C3C", "#000000", "#0B800B", "#18A0F8", "#8000FF"]}, "legend": null}
          },
          "layer": [
            {"data": {"name": "box"}, "transform": [{"filter": "datum.panel == 'b'"}],
             "mark": {"type": "rule", "strokeWidth": 2},
             "encoding": {
               "xOffset": {"datum": -0.8, "type": "quantitative", "scale": {"domain": [-2, 2]}},
               "y": {"field": "min", "type": "quantitative", "scale": {"domain": [24.7, 25.9], "nice": false, "zero": false},
                 "axis": {"title": "Jsc (mA/cm²)", "values": [24.8, 24.9, 25.0, 25.1, 25.2, 25.3, 25.4, 25.5, 25.6, 25.7, 25.8],
                   "labelExpr": "round(datum.value * 10) % 2 == 0 ? format(datum.value, '.1f') : ''",
                   "tickSize": {"condition": {"test": "round(datum.value * 10) % 2 == 0", "value": 6}, "value": 3},
                   "labelOverlap": false, "labelFontSize": 22, "labelPadding": 2, "titleFontSize": 24, "titlePadding": 5}},
               "y2": {"field": "max"}}},
            {"data": {"name": "box"}, "transform": [{"filter": "datum.panel == 'b'"}, {"fold": ["min", "max"], "as": ["stat", "level"]}],
             "mark": {"type": "point", "shape": "M-1,0L1,0", "size": 169, "filled": false, "strokeWidth": 2, "opacity": 1},
             "encoding": {"xOffset": {"datum": -0.8, "type": "quantitative", "scale": {"domain": [-2, 2]}}, "y": {"field": "level", "type": "quantitative"}}},
            {"data": {"name": "box"}, "transform": [{"filter": "datum.panel == 'b'"}],
             "mark": {"type": "rule", "strokeWidth": 27},
             "encoding": {"xOffset": {"datum": -0.8, "type": "quantitative", "scale": {"domain": [-2, 2]}}, "y": {"field": "q1", "type": "quantitative"}, "y2": {"field": "q3"}}},
            {"data": {"name": "box"}, "transform": [{"filter": "datum.panel == 'b'"}],
             "mark": {"type": "point", "shape": "M-1,0L1,0", "size": 729, "filled": false, "strokeWidth": 2, "opacity": 1},
             "encoding": {"xOffset": {"datum": -0.8, "type": "quantitative", "scale": {"domain": [-2, 2]}}, "y": {"field": "median", "type": "quantitative"}, "color": {"value": "white"}}},
            {"data": {"name": "box"}, "transform": [{"filter": "datum.panel == 'b'"}],
             "mark": {"type": "point", "shape": "square", "size": 20, "filled": false, "strokeWidth": 1, "opacity": 1},
             "encoding": {"xOffset": {"datum": -0.8, "type": "quantitative", "scale": {"domain": [-2, 2]}}, "y": {"field": "mean", "type": "quantitative"}, "color": {"value": "white"}}},
            {"data": {"name": "pts"}, "transform": [{"filter": "datum.panel == 'b'"}, {"window": [{"op": "row_number", "as": "rank"}], "groupby": ["group"], "sort": [{"field": "value", "order": "ascending"}]}, {"calculate": "((datum.rank * 0.618034) % 1) * 0.95 - 0.08", "as": "jitter"}],
             "mark": {"type": "point", "shape": "diamond", "filled": true, "size": 40, "opacity": 1, "strokeWidth": 0},
             "encoding": {"xOffset": {"field": "jitter", "type": "quantitative", "scale": {"domain": [-2, 2]}}, "y": {"field": "value", "type": "quantitative"}}},
            {"data": {"name": "crv"}, "transform": [{"filter": "datum.panel == 'b'"}],
             "mark": {"type": "line", "strokeWidth": 2, "interpolate": "natural"},
             "encoding": {"xOffset": {"field": "density", "type": "quantitative", "scale": {"domain": [-2, 2]}}, "y": {"field": "value", "type": "quantitative"}, "order": {"field": "value", "type": "quantitative"}}}
          ]
        },
        {"data": {"values": [{}]}, "mark": {"type": "rule", "strokeWidth": 2, "color": "black"}, "encoding": {"y": {"datum": 25.9, "type": "quantitative"}}}
      ]
    },
    {
      "width": 425, "height": 339,
      "title": {"text": "c", "anchor": "start", "frame": "group", "orient": "top", "offset": -34, "font": "Open Sans", "fontSize": 36, "fontWeight": "normal", "color": "black", "baseline": "alphabetic", "dx": -97, "dy": 35},
      "encoding": {
        "x": {"field": "group", "type": "nominal", "scale": {"domain": ["Control", "1", "2", "Target", "4"], "paddingInner": 0, "paddingOuter": 0.051, "align": 0.276},
          "axis": {"title": null, "labelAngle": 0, "labelFontSize": 24, "labelPadding": 4, "tickSize": 7,
            "labelColor": {"condition": [{"test": "datum.value == 'Control'", "value": "#F23C3C"}, {"test": "datum.value == '2'", "value": "#0B800B"}, {"test": "datum.value == 'Target'", "value": "#18A0F8"}, {"test": "datum.value == '4'", "value": "#8000FF"}], "value": "black"}}},
        "color": {"field": "group", "type": "nominal", "scale": {"domain": ["Control", "1", "2", "Target", "4"], "range": ["#F23C3C", "#000000", "#0B800B", "#18A0F8", "#8000FF"]}, "legend": null}
      },
      "layer": [
        {"data": {"name": "box"}, "transform": [{"filter": "datum.panel == 'c'"}],
         "mark": {"type": "rule", "strokeWidth": 2},
         "encoding": {
           "xOffset": {"datum": -0.8, "type": "quantitative", "scale": {"domain": [-2, 2]}},
           "y": {"field": "min", "type": "quantitative", "scale": {"domain": [81.5, 85.5], "nice": false, "zero": false},
             "axis": {"title": "FF (%)", "values": [82, 82.5, 83, 83.5, 84, 84.5, 85],
               "labelExpr": "round(datum.value * 2) % 2 == 0 ? format(datum.value, 'd') : ''",
               "tickSize": {"condition": {"test": "round(datum.value * 2) % 2 == 0", "value": 6}, "value": 3},
               "labelOverlap": false, "labelFontSize": 22, "labelPadding": 2, "titleFontSize": 24, "titlePadding": 5}},
           "y2": {"field": "max"}}},
        {"data": {"name": "box"}, "transform": [{"filter": "datum.panel == 'c'"}, {"fold": ["min", "max"], "as": ["stat", "level"]}],
         "mark": {"type": "point", "shape": "M-1,0L1,0", "size": 169, "filled": false, "strokeWidth": 2, "opacity": 1},
         "encoding": {"xOffset": {"datum": -0.8, "type": "quantitative", "scale": {"domain": [-2, 2]}}, "y": {"field": "level", "type": "quantitative"}}},
        {"data": {"name": "box"}, "transform": [{"filter": "datum.panel == 'c'"}],
         "mark": {"type": "rule", "strokeWidth": 28},
         "encoding": {"xOffset": {"datum": -0.8, "type": "quantitative", "scale": {"domain": [-2, 2]}}, "y": {"field": "q1", "type": "quantitative"}, "y2": {"field": "q3"}}},
        {"data": {"name": "box"}, "transform": [{"filter": "datum.panel == 'c'"}],
         "mark": {"type": "point", "shape": "M-1,0L1,0", "size": 784, "filled": false, "strokeWidth": 2, "opacity": 1},
         "encoding": {"xOffset": {"datum": -0.8, "type": "quantitative", "scale": {"domain": [-2, 2]}}, "y": {"field": "median", "type": "quantitative"}, "color": {"value": "white"}}},
        {"data": {"name": "box"}, "transform": [{"filter": "datum.panel == 'c'"}],
         "mark": {"type": "point", "shape": "square", "size": 20, "filled": false, "strokeWidth": 1, "opacity": 1},
         "encoding": {"xOffset": {"datum": -0.8, "type": "quantitative", "scale": {"domain": [-2, 2]}}, "y": {"field": "mean", "type": "quantitative"}, "color": {"value": "white"}}},
        {"data": {"name": "pts"}, "transform": [{"filter": "datum.panel == 'c'"}, {"window": [{"op": "row_number", "as": "rank"}], "groupby": ["group"], "sort": [{"field": "value", "order": "ascending"}]}, {"calculate": "((datum.rank * 0.618034) % 1) * 0.95 - 0.08", "as": "jitter"}],
         "mark": {"type": "point", "shape": "diamond", "filled": true, "size": 40, "opacity": 1, "strokeWidth": 0},
         "encoding": {"xOffset": {"field": "jitter", "type": "quantitative", "scale": {"domain": [-2, 2]}}, "y": {"field": "value", "type": "quantitative"}}},
        {"data": {"name": "crv"}, "transform": [{"filter": "datum.panel == 'c'"}],
         "mark": {"type": "line", "strokeWidth": 2, "interpolate": "natural"},
         "encoding": {"xOffset": {"field": "density", "type": "quantitative", "scale": {"domain": [-2, 2]}}, "y": {"field": "value", "type": "quantitative"}, "order": {"field": "value", "type": "quantitative"}}}
      ]
    },
    {
      "width": 418, "height": 339,
      "view": {"stroke": null},
      "title": {"text": "d", "anchor": "start", "frame": "group", "orient": "top", "offset": -39, "font": "Open Sans", "fontSize": 42, "fontWeight": "normal", "color": "black", "baseline": "alphabetic", "dx": -95, "dy": 35},
      "layer": [
        {
          "encoding": {
            "x": {"field": "group", "type": "nominal", "scale": {"domain": ["Control", "1", "2", "Target", "4"], "paddingInner": 0, "paddingOuter": 0.0644, "align": 0.12},
              "axis": {"title": null, "labelAngle": 0, "labelFontSize": 24, "labelPadding": 4, "tickSize": 7,
                "labelColor": {"condition": [{"test": "datum.value == 'Control'", "value": "#F23C3C"}, {"test": "datum.value == '2'", "value": "#0B800B"}, {"test": "datum.value == 'Target'", "value": "#18A0F8"}, {"test": "datum.value == '4'", "value": "#8000FF"}], "value": "black"}}},
            "color": {"field": "group", "type": "nominal", "scale": {"domain": ["Control", "1", "2", "Target", "4"], "range": ["#F23C3C", "#000000", "#0B800B", "#18A0F8", "#8000FF"]}, "legend": null}
          },
          "layer": [
            {"data": {"name": "box"}, "transform": [{"filter": "datum.panel == 'd'"}],
             "mark": {"type": "rule", "strokeWidth": 2},
             "encoding": {
               "xOffset": {"datum": -0.8, "type": "quantitative", "scale": {"domain": [-2, 2]}},
               "y": {"field": "min", "type": "quantitative", "scale": {"domain": [22, 25.5], "nice": false, "zero": false},
                 "axis": {"title": "PCE (%)", "values": [22, 22.5, 23, 23.5, 24, 24.5, 25],
                   "labelExpr": "round(datum.value * 2) % 2 == 0 ? format(datum.value, 'd') : ''",
                   "tickSize": {"condition": {"test": "round(datum.value * 2) % 2 == 0", "value": 6}, "value": 3},
                   "labelOverlap": false, "labelFontSize": 22, "labelPadding": 2, "titleFontSize": 24, "titlePadding": 5}},
               "y2": {"field": "max"}}},
            {"data": {"name": "box"}, "transform": [{"filter": "datum.panel == 'd'"}, {"fold": ["min", "max"], "as": ["stat", "level"]}],
             "mark": {"type": "point", "shape": "M-1,0L1,0", "size": 169, "filled": false, "strokeWidth": 2, "opacity": 1},
             "encoding": {"xOffset": {"datum": -0.8, "type": "quantitative", "scale": {"domain": [-2, 2]}}, "y": {"field": "level", "type": "quantitative"}}},
            {"data": {"name": "box"}, "transform": [{"filter": "datum.panel == 'd'"}],
             "mark": {"type": "rule", "strokeWidth": 27},
             "encoding": {"xOffset": {"datum": -0.8, "type": "quantitative", "scale": {"domain": [-2, 2]}}, "y": {"field": "q1", "type": "quantitative"}, "y2": {"field": "q3"}}},
            {"data": {"name": "box"}, "transform": [{"filter": "datum.panel == 'd'"}],
             "mark": {"type": "point", "shape": "M-1,0L1,0", "size": 729, "filled": false, "strokeWidth": 2, "opacity": 1},
             "encoding": {"xOffset": {"datum": -0.8, "type": "quantitative", "scale": {"domain": [-2, 2]}}, "y": {"field": "median", "type": "quantitative"}, "color": {"value": "white"}}},
            {"data": {"name": "box"}, "transform": [{"filter": "datum.panel == 'd'"}],
             "mark": {"type": "point", "shape": "square", "size": 20, "filled": false, "strokeWidth": 1, "opacity": 1},
             "encoding": {"xOffset": {"datum": -0.8, "type": "quantitative", "scale": {"domain": [-2, 2]}}, "y": {"field": "mean", "type": "quantitative"}, "color": {"value": "white"}}},
            {"data": {"name": "pts"}, "transform": [{"filter": "datum.panel == 'd'"}, {"window": [{"op": "row_number", "as": "rank"}], "groupby": ["group"], "sort": [{"field": "value", "order": "ascending"}]}, {"calculate": "((datum.rank * 0.618034) % 1) * 0.95 - 0.08", "as": "jitter"}],
             "mark": {"type": "point", "shape": "diamond", "filled": true, "size": 40, "opacity": 1, "strokeWidth": 0},
             "encoding": {"xOffset": {"field": "jitter", "type": "quantitative", "scale": {"domain": [-2, 2]}}, "y": {"field": "value", "type": "quantitative"}}},
            {"data": {"name": "crv"}, "transform": [{"filter": "datum.panel == 'd'"}],
             "mark": {"type": "line", "strokeWidth": 2, "interpolate": "natural"},
             "encoding": {"xOffset": {"field": "density", "type": "quantitative", "scale": {"domain": [-2, 2]}}, "y": {"field": "value", "type": "quantitative"}, "order": {"field": "value", "type": "quantitative"}}}
          ]
        },
        {"data": {"values": [{}]}, "mark": {"type": "rule", "strokeWidth": 2, "color": "black"}, "encoding": {"y": {"datum": 25.5, "type": "quantitative"}}}
      ]
    }
  ],
  "columns": 2,
  "spacing": {"row": 78, "column": 118},
  "bounds": "flush",
  "config": {
    "view": {"stroke": "black", "strokeWidth": 2},
    "axis": {"grid": false, "domainColor": "black", "domainWidth": 2, "tickColor": "black", "tickWidth": 2, "labelColor": "black", "titleColor": "black", "labelFont": "Liberation Sans", "titleFont": "Liberation Sans", "titleFontWeight": "normal"}
  }
}
